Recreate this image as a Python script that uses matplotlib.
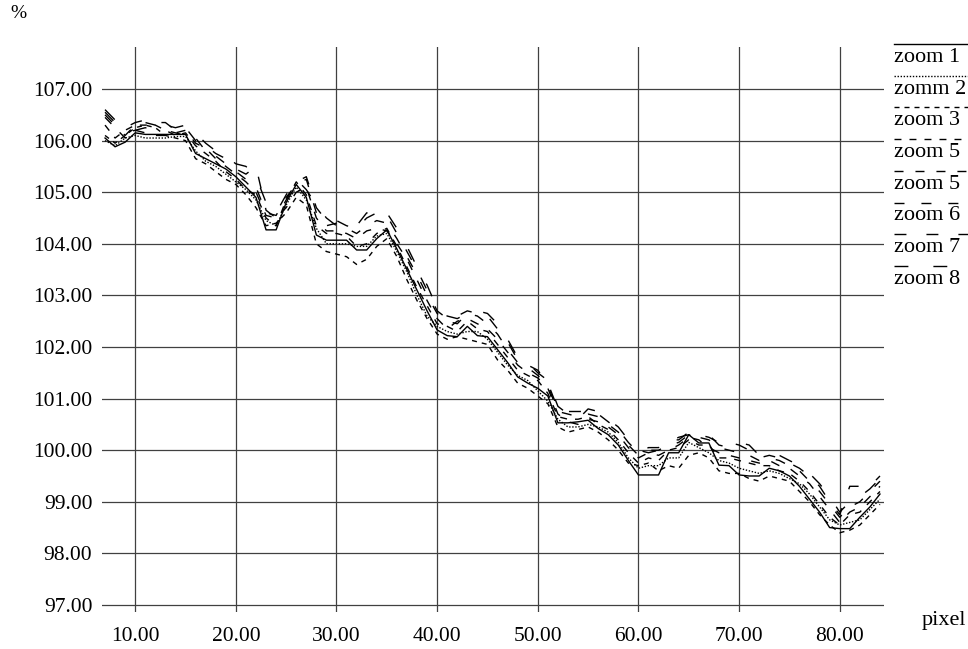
import numpy as np
import matplotlib
matplotlib.use("Agg")
import matplotlib.pyplot as plt
from matplotlib.lines import Line2D

plt.rcParams['font.family'] = ['Liberation Serif', 'DejaVu Serif']

# pixel positions 7..84
pixel = list(range(7, 85))

zoom1 = [106.05, 105.88, 105.97, 106.15, 106.12, 106.12, 106.12, 106.12, 106.12, 105.75,
         105.65, 105.55, 105.45, 105.30, 105.10, 104.90, 104.27, 104.27, 104.80, 105.15,
         104.90, 104.17, 104.07, 104.07, 104.07, 103.88, 103.88, 104.10, 104.27, 103.90,
         103.50, 103.10, 102.70, 102.33, 102.22, 102.20, 102.40, 102.22, 102.20, 101.95,
         101.70, 101.42, 101.30, 101.20, 101.05, 100.53, 100.53, 100.55, 100.58, 100.42,
         100.30, 100.10, 99.80, 99.52, 99.52, 99.52, 99.95, 99.95, 100.30, 100.14,
         100.14, 99.71, 99.70, 99.52, 99.50, 99.50, 99.65, 99.60, 99.50, 99.30,
         99.05, 98.80, 98.50, 98.48, 98.48, 98.70, 98.90, 99.15]
zomm2 = [106.00, 105.90, 106.05, 106.10, 106.05, 106.05, 106.05, 106.08, 106.08, 105.80,
         105.60, 105.50, 105.35, 105.20, 105.05, 104.85, 104.45, 104.35, 104.75, 105.10,
         104.85, 104.30, 104.00, 104.00, 104.00, 103.95, 103.95, 104.15, 104.20, 103.85,
         103.45, 103.00, 102.60, 102.40, 102.30, 102.25, 102.30, 102.30, 102.15, 101.90,
         101.65, 101.45, 101.35, 101.15, 100.95, 100.60, 100.45, 100.45, 100.50, 100.45,
         100.35, 100.15, 99.85, 99.65, 99.70, 99.70, 99.85, 99.85, 100.15, 100.05,
         99.95, 99.80, 99.75, 99.65, 99.60, 99.55, 99.60, 99.55, 99.45, 99.35,
         99.15, 98.90, 98.65, 98.55, 98.60, 98.65, 98.85, 99.05]
zoom3 = [106.10, 105.95, 106.10, 106.25, 106.30, 106.25, 106.10, 106.05, 106.00, 105.65,
         105.55, 105.40, 105.25, 105.15, 104.95, 104.70, 104.35, 104.40, 104.60, 104.90,
         104.75, 104.00, 103.85, 103.80, 103.75, 103.60, 103.70, 103.95, 104.10, 103.75,
         103.30, 102.90, 102.55, 102.25, 102.15, 102.20, 102.15, 102.10, 102.05, 101.75,
         101.55, 101.30, 101.20, 101.05, 100.90, 100.45, 100.35, 100.40, 100.45, 100.35,
         100.20, 100.00, 99.75, 99.70, 99.75, 99.60, 99.70, 99.65, 99.90, 99.95,
         99.85, 99.60, 99.55, 99.55, 99.45, 99.40, 99.50, 99.45, 99.40, 99.20,
         99.00, 98.75, 98.55, 98.40, 98.45, 98.55, 98.75, 98.95]
zoom5a = [106.30, 106.05, 106.20, 106.30, 106.30, 106.30, 106.20, 106.10, 106.15, 105.90,
          105.75, 105.60, 105.40, 105.25, 105.05, 104.95, 104.50, 104.35, 104.85, 105.20,
          104.95, 104.35, 104.20, 104.20, 104.15, 103.95, 104.00, 104.20, 104.30, 103.95,
          103.55, 103.15, 102.80, 102.45, 102.40, 102.30, 102.50, 102.35, 102.30, 102.05,
          101.80, 101.55, 101.45, 101.35, 101.10, 100.65, 100.60, 100.60, 100.65, 100.50,
          100.40, 100.20, 99.95, 99.75, 99.85, 99.80, 100.00, 100.05, 100.20, 100.10,
          100.10, 99.85, 99.85, 99.80, 99.75, 99.70, 99.70, 99.60, 99.55, 99.40,
          99.20, 98.95, 98.70, 98.55, 98.75, 98.80, 99.00, 99.20]
zoom5b = [106.45, 106.25, 106.05, 106.20, 106.15, 106.10, 106.10, 106.15, 106.20, 105.95,
          105.85, 105.65, 105.50, 105.35, 105.20, 105.00, 104.55, 104.50, 104.70, 105.00,
          105.10, 104.50, 104.25, 104.25, 104.20, 104.10, 104.25, 104.30, 104.25, 104.00,
          103.70, 103.30, 102.90, 102.55, 102.35, 102.50, 102.55, 102.45, 102.35, 102.15,
          101.90, 101.65, 101.50, 101.40, 101.20, 100.70, 100.55, 100.50, 100.60, 100.55,
          100.45, 100.30, 100.05, 99.85, 99.95, 99.90, 100.00, 100.10, 100.25, 100.20,
          100.05, 99.95, 99.90, 99.85, 99.80, 99.75, 99.80, 99.70, 99.65, 99.50,
          99.35, 99.10, 98.85, 98.60, 98.80, 98.90, 99.10, 99.30]
zoom6 = [106.50, 106.30, 106.10, 106.30, 106.35, 106.30, 106.20, 106.15, 106.10, 106.05,
         105.80, 105.70, 105.55, 105.40, 105.25, 105.10, 104.60, 104.55, 104.90, 105.15,
         105.25, 104.60, 104.35, 104.40, 104.30, 104.20, 104.35, 104.45, 104.40, 104.10,
         103.75, 103.40, 103.00, 102.65, 102.50, 102.45, 102.65, 102.60, 102.45, 102.25,
         101.95, 101.70, 101.60, 101.45, 101.25, 100.75, 100.70, 100.65, 100.70, 100.65,
         100.50, 100.35, 100.10, 99.90, 100.00, 100.00, 100.10, 100.15, 100.30, 100.25,
         100.20, 100.05, 100.00, 99.95, 99.90, 99.80, 99.85, 99.80, 99.70, 99.60,
         99.40, 99.20, 98.95, 98.70, 98.90, 99.00, 99.20, 99.40]
zoom7 = [106.55, 106.35, 106.25, 106.35, 106.40, 106.35, 106.35, 106.20, 106.25, 106.00,
         105.90, 105.75, 105.65, 105.45, 105.35, 105.50, 104.65, 104.50, 104.85, 105.20,
         105.30, 104.70, 104.45, 104.45, 104.35, 104.30, 104.50, 104.60, 104.55, 104.20,
         103.85, 103.50, 103.10, 102.70, 102.55, 102.60, 102.70, 102.65, 102.60, 102.35,
         102.10, 101.75, 101.65, 101.55, 101.30, 100.80, 100.75, 100.75, 100.75, 100.70,
         100.55, 100.40, 100.15, 99.95, 100.05, 100.05, 100.20, 100.20, 100.35, 100.30,
         100.25, 100.15, 100.15, 100.10, 100.00, 99.85, 99.90, 99.85, 99.75, 99.65,
         99.50, 99.30, 99.00, 98.75, 99.30, 99.30, 99.30, 99.50]
zoom8 = [106.60, 106.40, 106.15, 106.20, 106.25, 106.20, 106.30, 106.25, 106.30, 106.15,
         105.95, 105.80, 105.70, 105.55, 105.50, 105.30, 104.80, 104.60, 104.95, 105.25,
         105.05, 104.75, 104.50, 104.35, 104.40, 104.35, 104.60, 104.50, 104.60, 104.30,
         103.95, 103.55, 103.20, 102.75, 102.60, 102.55, 102.65, 102.70, 102.65, 102.45,
         102.15, 101.80, 101.70, 101.50, 101.35, 100.85, 100.70, 100.60, 100.80, 100.75,
         100.60, 100.45, 100.20, 100.00, 99.95, 100.00, 100.15, 100.25, 100.30, 100.20,
         100.30, 100.10, 100.05, 100.15, 100.10, 99.90, 99.95, 99.90, 99.80, 99.70,
         99.55, 99.35, 99.10, 98.80, 99.00, 99.10, 99.25, 99.45]

names = ["zoom 1", "zomm 2", "zoom 3", "zoom 5", "zoom 5", "zoom 6", "zoom 7", "zoom 8"]
series = [zoom1, zomm2, zoom3, zoom5a, zoom5b, zoom6, zoom7, zoom8]
styles = ['-', (0, (1, 1.2)), (0, (3.6, 3.6)), (0, (5, 5.8)), (0, (6.5, 8.6)),
          (0, (7.2, 12.2)), (0, (8.6, 14.4)), (0, (10, 18))]

yticks = [97, 98, 99, 100, 101, 102, 103, 104, 105, 106, 107]
xticks = [10, 20, 30, 40, 50, 60, 70, 80]

W, H = 968, 649
fig = plt.figure(figsize=(W / 100, H / 100), dpi=100)
ax = fig.add_axes([102 / W, 1 - 612 / H, (884 - 102) / W, (612 - 47) / H])

for y, name, ls in zip(series, names, styles):
    ax.plot(pixel, y, color='black', lw=1.0, linestyle=ls, label=name)

ax.set_xlim(6.7, 84.4)
ax.set_ylim(96.864, 107.814)
ax.set_xticks(xticks)
ax.set_yticks(yticks)
ax.set_xticklabels(["%.2f" % v for v in xticks])
ax.set_yticklabels(["%.2f" % v for v in yticks])
ax.tick_params(length=0, labelsize=15.5)
ax.tick_params(axis='y', pad=7)
ax.tick_params(axis='x', pad=11)
ax.grid(True, color='#404040', lw=0.9)
ax.set_axisbelow(True)
for s in ax.spines.values():
    s.set_visible(False)

fig.text(10 / W, 1 - 14 / H, "%", fontsize=14, va='center', ha='left')
fig.text(922 / W, 1 - 620 / H, "pixel", fontsize=16, va='center', ha='left')

# legend: line above each name
for i, (name, ls) in enumerate(zip(names, styles)):
    ly = 44 + i * 31.7
    fig.add_artist(Line2D([894 / W, 1.0], [1 - ly / H, 1 - ly / H], color='black',
                          lw=1.0, linestyle=ls))
    fig.text(894 / W, 1 - (ly + 18) / H, name, fontsize=16, va='baseline', ha='left')

fig.savefig("out.png", dpi=100)
